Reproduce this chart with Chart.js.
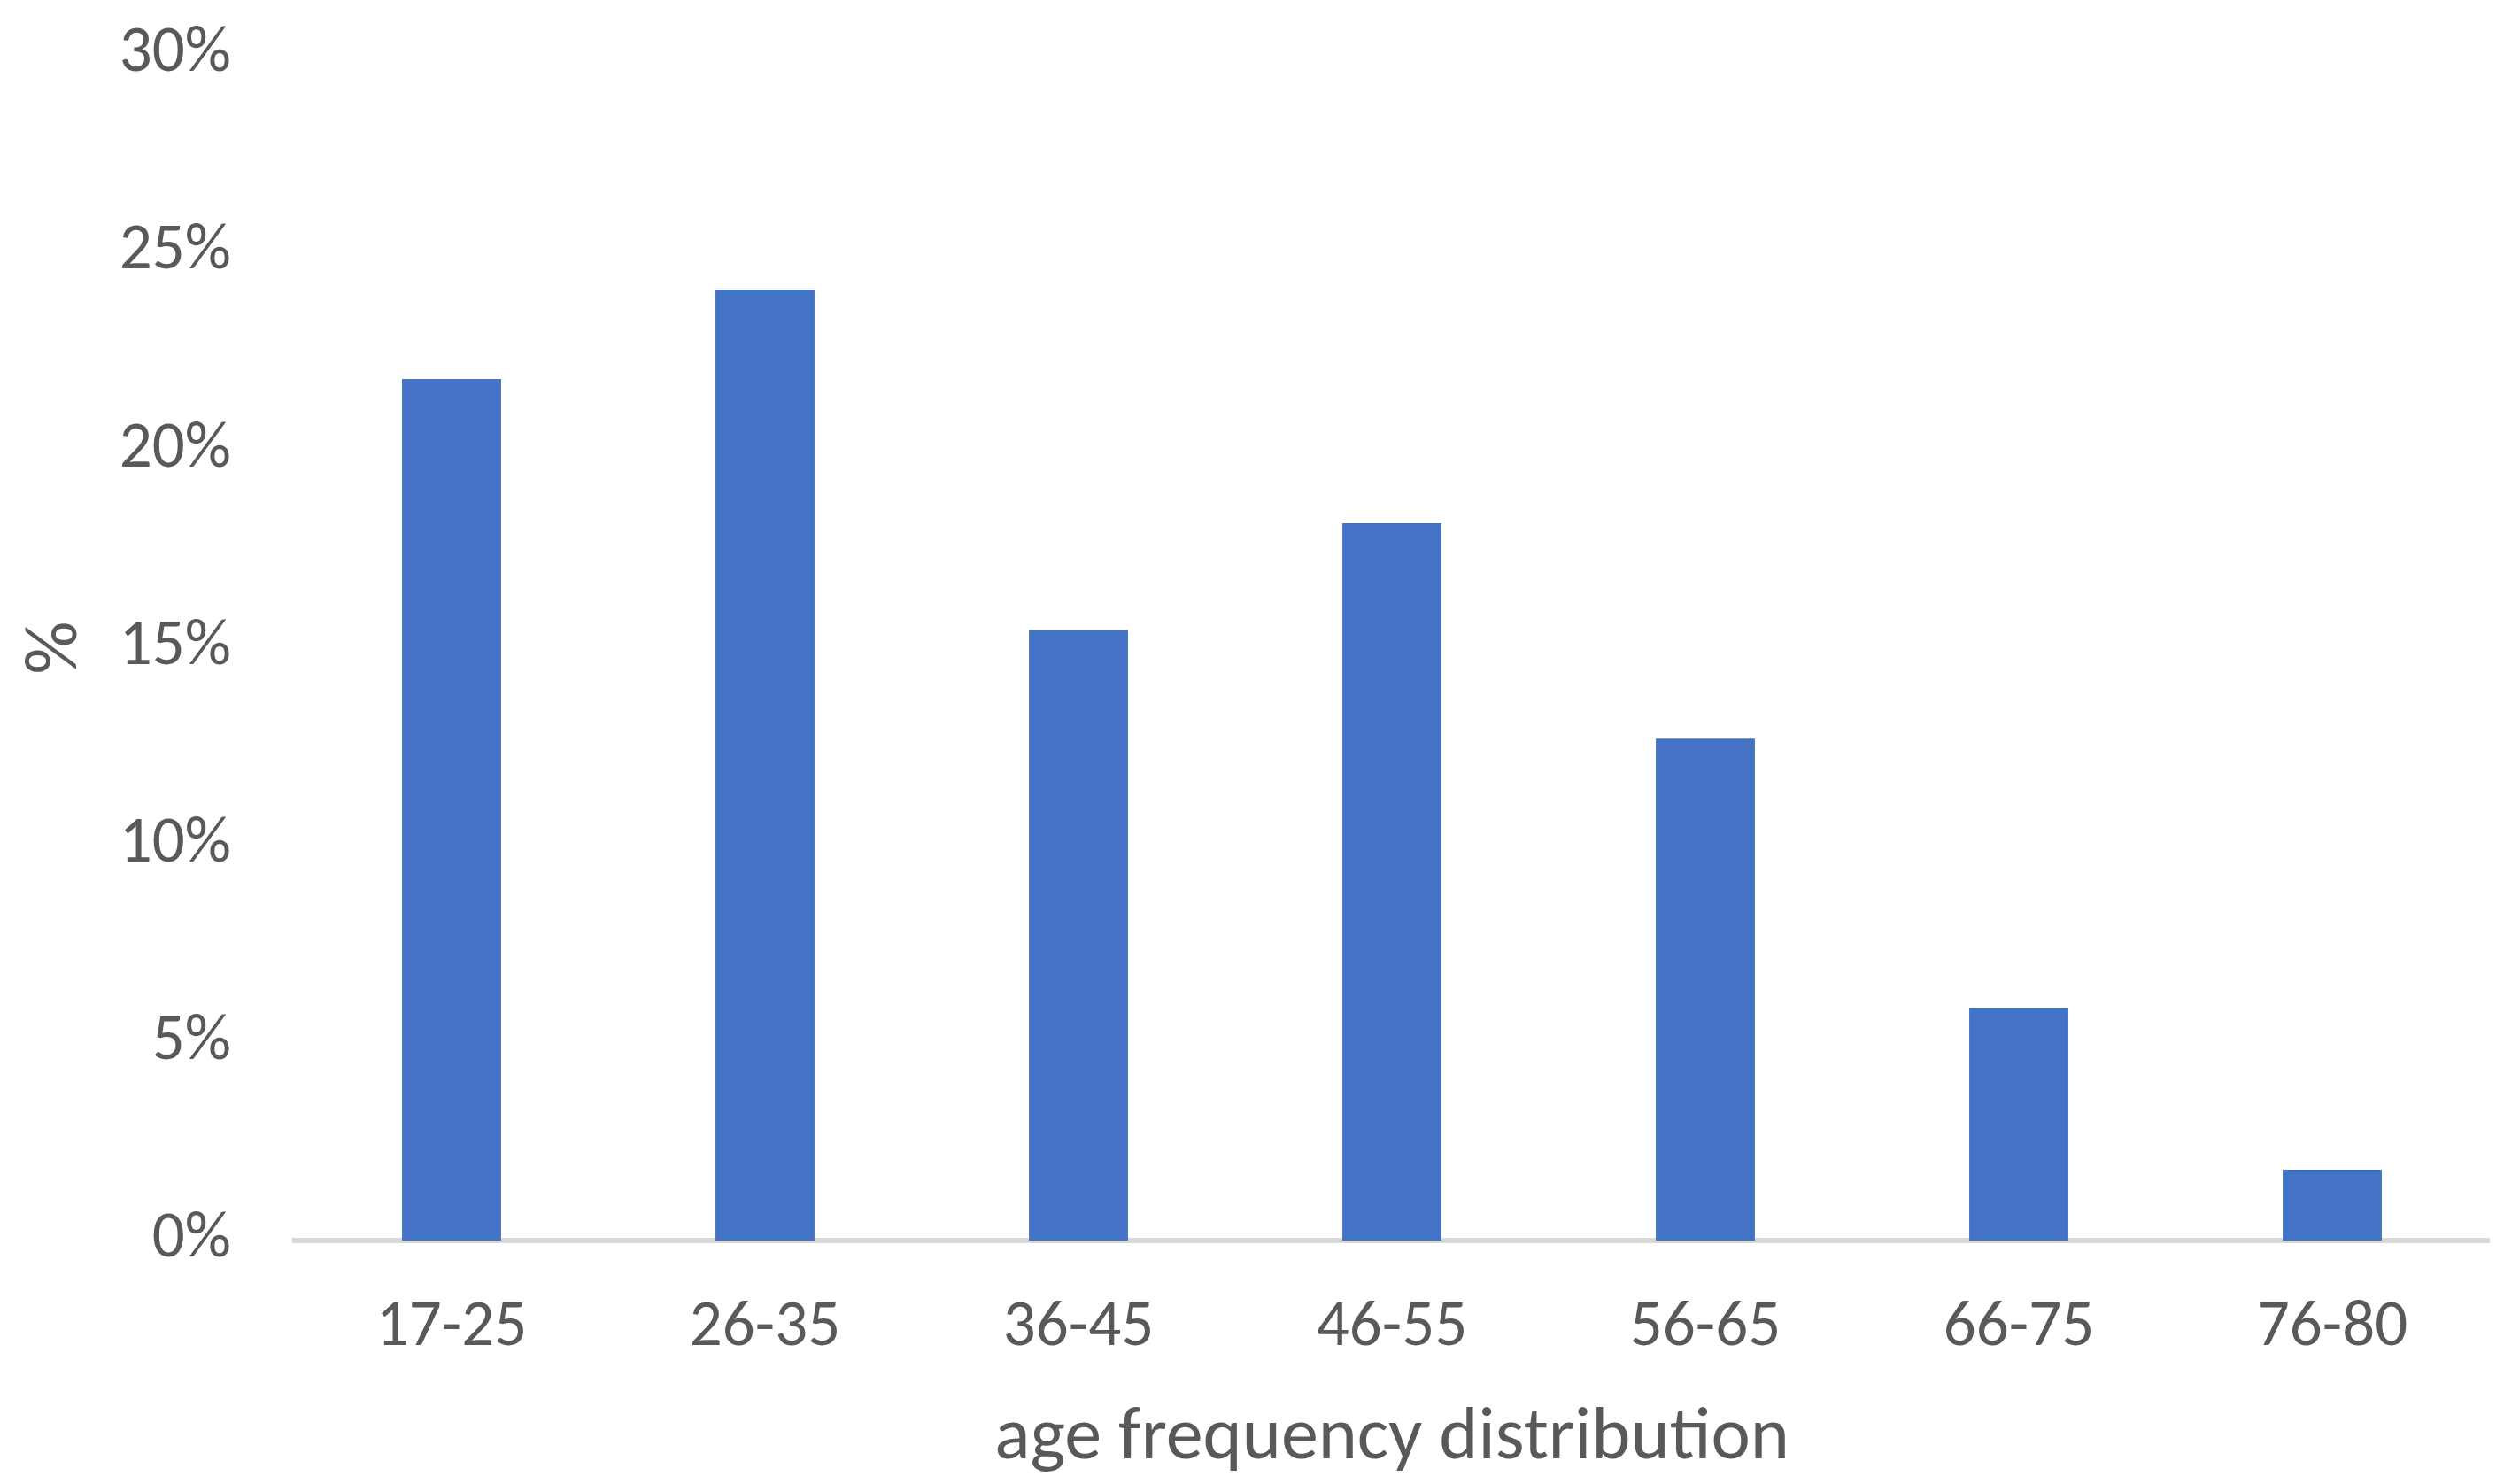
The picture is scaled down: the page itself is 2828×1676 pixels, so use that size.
<!DOCTYPE html>
<html>
<head>
<meta charset="utf-8">
<script src="https://cdn.jsdelivr.net/npm/chart.js@4/dist/chart.umd.min.js"></script>
<style>
  html, body { margin: 0; padding: 0; background: #fff; }
  #wrap { width: 2828px; height: 1676px; position: relative; }
</style>
</head>
<body>
<div id="wrap"><canvas id="ageChart"></canvas></div>
<script>
// age groups and share of respondents (%)
const ageGroups = ['17-25', '26-35', '36-45', '46-55', '56-65', '66-75', '76-80'];
const sharePct = [21.80, 24.06, 15.44, 18.15, 12.70, 5.89, 1.79];
const yTicks = [0, 5, 10, 15, 20, 25, 30];

const FONT = "Calibri, Carlito, 'Liberation Sans', Arial, sans-serif";
const TEXT = '#595959';

const ctx = document.getElementById('ageChart');

new Chart(ctx, {
  type: 'bar',
  data: {
    labels: ageGroups,
    datasets: [{
      label: '%',
      data: sharePct,
      backgroundColor: '#4472C4',
      borderWidth: 0,
      categoryPercentage: 0.316,
      barPercentage: 1
    }]
  },
  options: {
    responsive: true,
    maintainAspectRatio: false,
    animation: false,
    layout: { padding: { top: 62, right: 17, bottom: 0, left: 0 } },
    plugins: {
      legend: { display: false },
      tooltip: { enabled: false }
    },
    scales: {
      x: {
        grid: { drawOnChartArea: false, drawTicks: false },
        border: { display: true, color: '#D9D9D9', width: 6 },
        ticks: { color: TEXT, font: { family: FONT, size: 73 }, padding: 56, maxRotation: 0 },
        title: {
          display: true,
          text: 'age frequency distribution',
          color: TEXT,
          font: { family: FONT, size: 84 },
          padding: { top: 0, bottom: 0 }
        },
        afterFit: (scale) => { scale.height = 275; }
      },
      y: {
        min: 0,
        max: 30,
        // invisible tick marks give the label gap without padding the chart top
        grid: { display: false, drawTicks: true, tickLength: 72 },
        border: { display: false },
        ticks: {
          stepSize: 5,
          color: TEXT,
          font: { family: FONT, size: 73 },
          padding: 0,
          callback: (v) => yTicks.includes(v) ? v + '%' : ''
        },
        title: {
          display: true,
          text: '%',
          color: TEXT,
          font: { family: FONT, size: 84 },
          padding: { top: 15, bottom: 0 }
        },
        afterFit: (scale) => { scale.width = 333; }
      }
    }
  }
});
</script>
</body>
</html>
